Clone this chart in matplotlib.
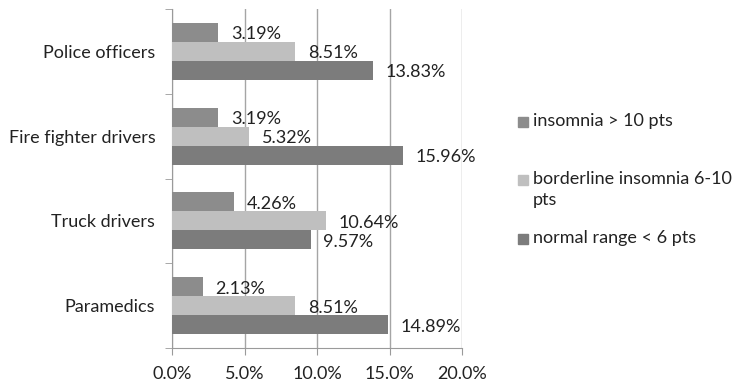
import matplotlib.pyplot as plt
from matplotlib.patches import Rectangle

plt.rcParams['font.family'] = ['Lato', 'DejaVu Sans']

categories = ['Paramedics', 'Truck drivers', 'Fire fighter drivers', 'Police officers']
insomnia = [2.13, 4.26, 3.19, 3.19]
borderline = [8.51, 10.64, 5.32, 8.51]
normal = [14.89, 9.57, 15.96, 13.83]
series_names = ['insomnia > 10 pts', 'borderline insomnia 6-10\npts', 'normal range < 6 pts']
colors = ['#8c8c8c', '#bfbfbf', '#7c7c7c']
xticks = [0, 5, 10, 15, 20]

W, H = 734, 389
fs = 13
fig = plt.figure(figsize=(W / 100, H / 100), dpi=100)
ax = fig.add_axes([172 / W, 1 - 348 / H, 290 / W, 339 / H])

h = 0.224
ypos = list(range(len(categories)))
offsets = [h, 0, -h]
for vals, off, col in zip([insomnia, borderline, normal], offsets, colors):
    ys = [y + off for y in ypos]
    ax.barh(ys, vals, height=h, color=col, zorder=3)
    for v, y in zip(vals, ys):
        ax.annotate('%.2f%%' % v, (v, y), xytext=(9, -1.5), textcoords='offset points',
                    va='center', ha='left', fontsize=fs, color='#222222', zorder=4)

ax.set_xlim(0, 20)
ax.set_ylim(-0.5, len(categories) - 0.5)
ax.set_xticks(xticks)
ax.set_xticklabels(['%.1f%%' % t for t in xticks], fontsize=fs, color='#222222')
ax.set_yticks(ypos)
ax.set_yticklabels(categories, fontsize=fs, color='#222222')
ax.tick_params(axis='y', length=0, pad=12)
ax.set_yticks([y - 0.5 for y in range(len(categories) + 1)], minor=True)
ax.tick_params(axis='y', which='minor', length=5, color='#9a9a9a', direction='out')
ax.tick_params(axis='x', length=5, color='#9a9a9a', direction='out', pad=8)
ax.xaxis.grid(True, color='#a5a5a5', linewidth=1, zorder=0)
for s in ['top', 'right']:
    ax.spines[s].set_visible(False)
for s in ['left', 'bottom']:
    ax.spines[s].set_color('#9a9a9a')

# legend drawn by hand (Excel-style uneven slots)
legend_y = [122, 180, 239]
for name, col, ly in zip(series_names, colors, legend_y):
    fig.patches.append(Rectangle((518 / W, 1 - (ly + 5) / H), 10 / W, 10 / H,
                                 transform=fig.transFigure, color=col))
    fig.text(533 / W, 1 - (ly - 9) / H, name, ha='left', va='top', fontsize=fs,
             color='#222222', linespacing=1.35)

fig.savefig('out.png', dpi=100)
